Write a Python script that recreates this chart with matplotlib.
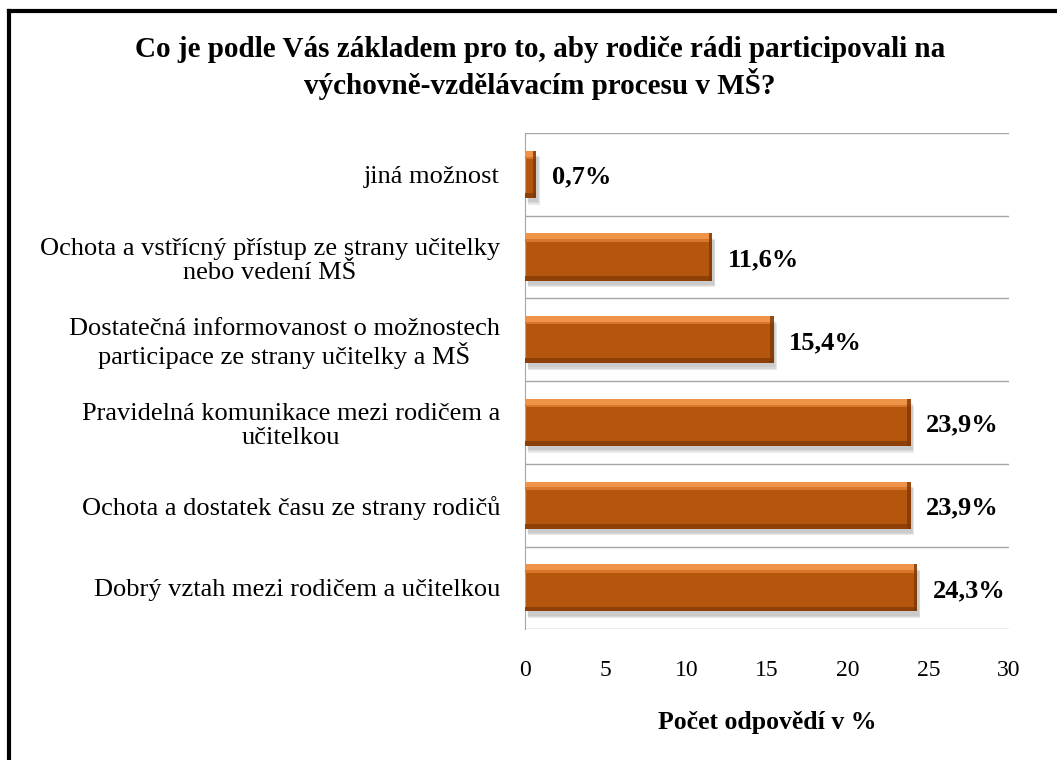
import numpy as np
import matplotlib.pyplot as plt
from matplotlib.lines import Line2D

plt.rcParams['font.family'] = ['Liberation Serif', 'DejaVu Serif']

categories = ["Dobrý vztah mezi rodičem a učitelkou",
              "Ochota a dostatek času ze strany rodičů",
              "Pravidelná komunikace mezi rodičem a\nučitelkou",
              "Dostatečná informovanost o možnostech\nparticipace ze strany učitelky a MŠ",
              "Ochota a vstřícný přístup ze strany učitelky\nnebo vedení MŠ",
              "jiná možnost"]
values = [24.3, 23.9, 23.9, 15.4, 11.6, 0.7]
value_labels = ["24,3%", "23,9%", "23,9%", "15,4%", "11,6%", "0,7%"]
xticks = [0, 5, 10, 15, 20, 25, 30]

fig = plt.figure(figsize=(10.57, 7.6), dpi=100)
ax = fig.add_axes([0.4967, 0.172, 0.458, 0.653])

y = np.arange(len(values))
h = 0.57
# soft shadow
for k, a in enumerate([0.05, 0.07, 0.09]):
    ax.barh(y - 0.05 - 0.015 * k, values, height=h, left=0.12 + 0.04 * k, color="#000000", alpha=a, zorder=1)
# main bar
ax.barh(y, values, height=h, color="#b5560f", zorder=2)
# bevel: light top, dark bottom, darker right end
ax.barh(y + h / 2 - 0.035, values, height=0.07, color="#ee9347", zorder=3)
ax.barh(y + h / 2 - 0.085, values, height=0.03, color="#d8772c", zorder=3)
ax.barh(y - h / 2 + 0.03, values, height=0.06, color="#8e4009", zorder=3)
ax.barh(y, [min(v, 0.2) for v in values], height=h, left=[v - min(v, 0.2) for v in values],
        color="#7e3806", alpha=0.8, zorder=3)

for yi, v, lab in zip(y, values, value_labels):
    ax.annotate(lab, (v, yi), xytext=(11, -2), textcoords="offset points",
                ha="left", va="center", fontsize=19, fontweight="bold")

ax.tick_params(axis="both", length=0)
ax.tick_params(axis="y", pad=18)
ax.tick_params(axis="x", pad=22)
ax.set_xlim(0, 30)
ax.set_ylim(-0.5, len(values) - 0.5)
ax.set_xticks(xticks)
ax.set_xticklabels([str(t) for t in xticks], fontsize=17)
ax.set_yticks(y)
ax.set_yticklabels(categories, fontsize=19, linespacing=1.12, multialignment="center")
for yy in np.arange(-0.5, len(values), 1.0):
    ax.axhline(yy, color="#a6a6a6", lw=1, zorder=0)
for s in ["top", "right", "bottom"]:
    ax.spines[s].set_visible(False)
ax.spines["left"].set_color("#a6a6a6")

ax.set_xlabel("Počet odpovědí v %", fontsize=18.5, fontweight="bold", labelpad=22)

fig.text(0.511, 0.911, "Co je podle Vás základem pro to, aby rodiče rádi participovali na\nvýchovně-vzdělávacím procesu v MŠ?",
         ha="center", va="center", fontsize=21, fontweight="bold", linespacing=1.2)

# outer frame (top and left edges visible)
fig.add_artist(Line2D([0.0085, 1.0], [0.986, 0.986], color="black", lw=3, transform=fig.transFigure))
fig.add_artist(Line2D([0.0085, 0.0085], [0.0, 0.986], color="black", lw=3, transform=fig.transFigure))

fig.savefig("out.png", dpi=100)
